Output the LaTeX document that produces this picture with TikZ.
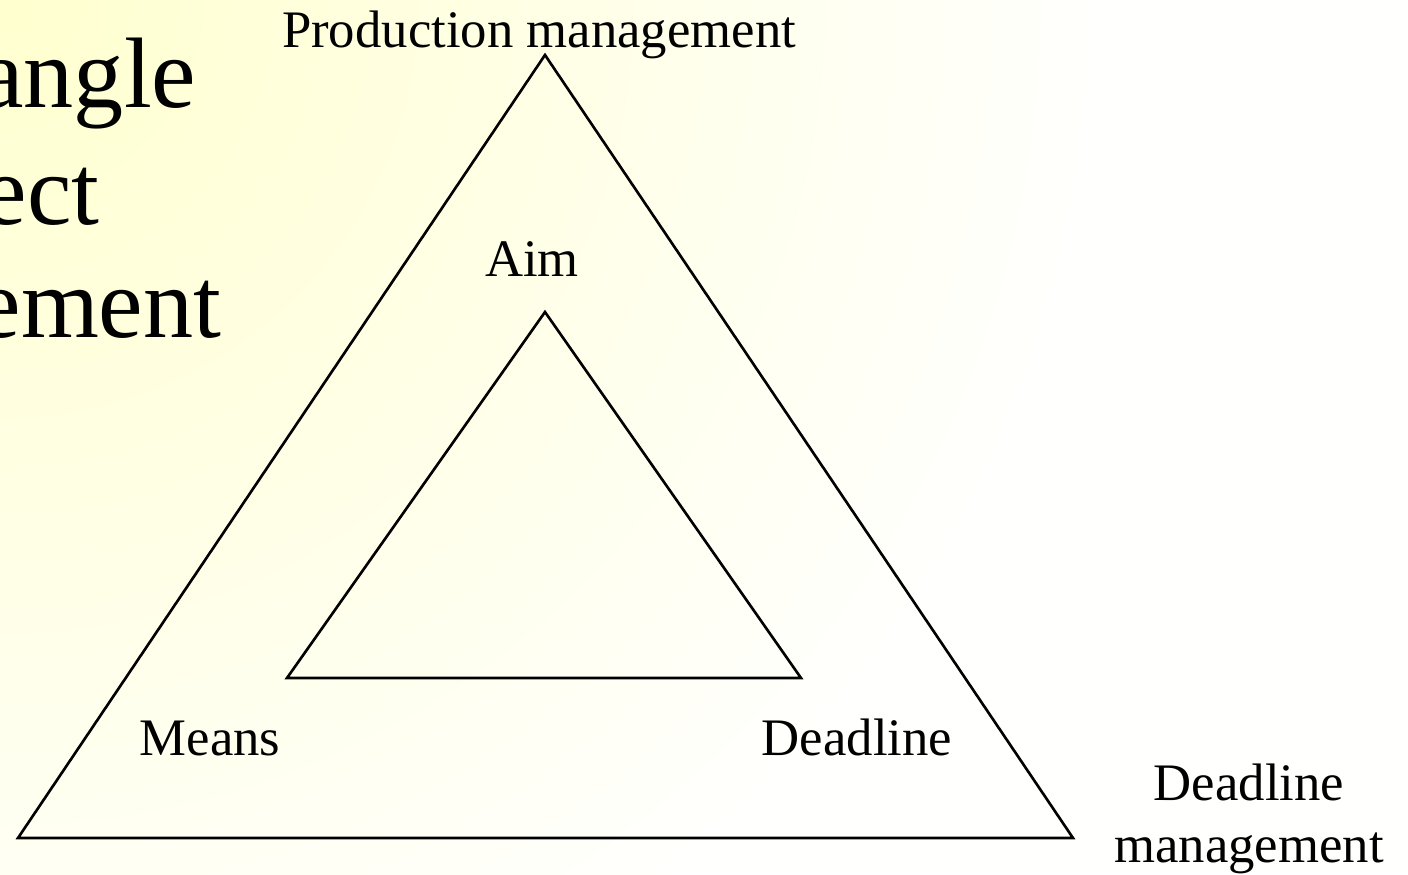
\documentclass[tikz,border=0pt]{standalone}
\usepackage{fontspec}
\setmainfont{Liberation Serif}
\usepackage{tikz}
\usetikzlibrary{positioning,shadings}

\definecolor{slideYellow}{HTML}{FFFFCF}
\definecolor{slideWhite}{HTML}{FFFFFD}

\begin{document}
\begin{tikzpicture}[x=1cm, y=1cm,
  lbl/.style={draw=none,fill=none,inner sep=0pt,font=\fontsize{15}{17.6}\selectfont},
  bigtext/.style={draw=none,fill=none,inner sep=0pt,anchor=base east,font=\fontsize{28.5}{33}\selectfont},
  tri/.style={draw=black,line width=0.75pt,line join=miter}]

%slide background
\begin{scope}
\clip (0,0) rectangle (14.08,8.74);
\fill[slideWhite] (0,0) rectangle (14.08,8.74);
\shade[inner color=slideYellow,outer color=slideWhite] (0,8.74) circle (11);
\end{scope}
\useasboundingbox (0,0) rectangle (14.08,8.74);

%cut off slide title
\node[bigtext] (Title1) at (1.97,7.66) {angle};
\node[bigtext] (Title2) at (1.00,6.49) {ect};
\node[bigtext] (Title3) at (2.22,5.36) {ement};

%outer triangle
\coordinate (OuterTop) at (5.45,8.19);
\coordinate (OuterLeft) at (0.18,0.36);
\coordinate (OuterRight) at (10.73,0.36);
\draw[tri] (OuterTop) -- (OuterLeft) -- (OuterRight) -- cycle;

%inner triangle
\coordinate (InnerTop) at (5.45,5.62);
\coordinate (InnerLeft) at (2.87,1.96);
\coordinate (InnerRight) at (8.01,1.96);
\draw[tri] (InnerTop) -- (InnerLeft) -- (InnerRight) -- cycle;

%label corners
\node[lbl,anchor=base] (Prod) at (5.39,8.26) {Production management};
\node[lbl,anchor=base] (Aim) at (5.32,5.97) {Aim};
\node[lbl,anchor=base] (Means) at (2.10,1.19) {Means};
\node[lbl,anchor=base] (Dead) at (8.57,1.19) {Deadline};
\node[lbl,anchor=base,align=center] (DeadMan) at (12.49,0.12) {Deadline\\management};

\end{tikzpicture}
\end{document}
